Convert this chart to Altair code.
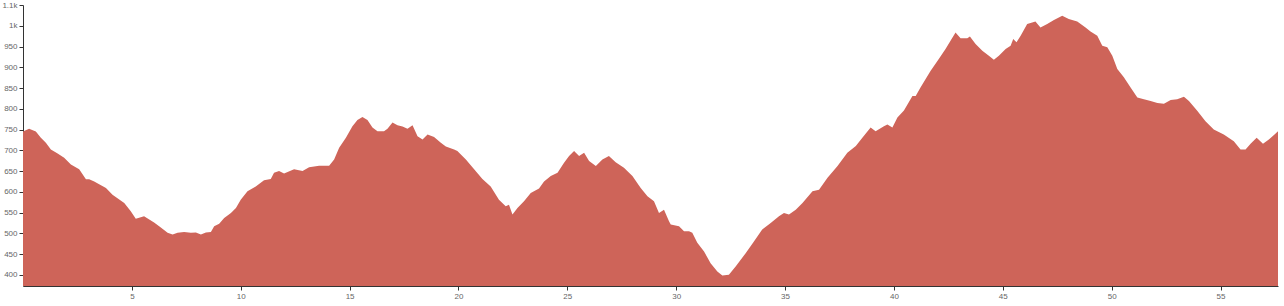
import altair as alt
import pandas as pd

distance_km = [0.0, 0.28, 0.59, 0.82, 1.05, 1.28, 1.59, 1.89, 2.20, 2.58, 2.89, 3.04, 3.27, 3.81, 4.11,
               4.65, 4.95, 5.18, 5.56, 6.02, 6.33, 6.64, 6.87, 7.10, 7.40, 7.71, 7.94, 8.17, 8.40, 8.63,
               8.78, 9.01, 9.24, 9.55, 9.78, 10.00, 10.31, 10.69, 11.07, 11.38, 11.53, 11.76, 11.99,
               12.45, 12.84, 13.14, 13.60, 14.06, 14.29, 14.52, 14.83, 15.13, 15.36, 15.59, 15.82,
               16.05, 16.28, 16.58, 16.74, 16.97, 17.20, 17.43, 17.66, 17.89, 18.12, 18.35, 18.58,
               18.88, 19.19, 19.42, 19.80, 19.95, 20.34, 20.72, 21.10, 21.48, 21.86, 22.17, 22.32,
               22.48, 22.71, 23.01, 23.32, 23.70, 23.93, 24.24, 24.55, 24.85, 25.08, 25.31, 25.54,
               25.77, 26.00, 26.31, 26.61, 26.91, 27.22, 27.60, 27.99, 28.37, 28.68, 28.98, 29.21,
               29.44, 29.67, 29.75, 30.13, 30.36, 30.59, 30.74, 30.97, 31.28, 31.58, 31.89, 32.12,
               32.42, 32.73, 33.19, 33.57, 33.95, 34.34, 34.72, 34.95, 35.18, 35.49, 35.80, 36.26,
               36.56, 36.95, 37.41, 37.86, 38.25, 38.55, 38.93, 39.16, 39.54, 39.70, 39.93, 40.16,
               40.46, 40.85, 41.00, 41.22, 41.68, 42.06, 42.37, 42.60, 42.83, 43.06, 43.37, 43.49,
               43.75, 44.06, 44.36, 44.59, 44.82, 45.13, 45.36, 45.48, 45.63, 45.82, 46.12, 46.35,
               46.50, 46.73, 47.04, 47.35, 47.73, 48.03, 48.42, 48.80, 49.03, 49.34, 49.57, 49.80,
               50.03, 50.26, 50.56, 50.87, 51.18, 51.48, 51.79, 52.10, 52.40, 52.71, 53.01, 53.32,
               53.55, 53.93, 54.31, 54.69, 55.15, 55.61, 55.92, 56.15, 56.38, 56.66, 56.95, 57.22,
               57.48, 57.64]

elevation_m = [745, 752, 745, 730, 718, 702, 692, 682, 666, 654, 630, 630, 625, 609, 593,
               573, 553, 535, 541, 526, 514, 501, 497, 501, 503, 501, 502, 497, 502, 503,
               517, 523, 537, 549, 561, 581, 601, 613, 628, 631, 646, 650, 644,
               654, 650, 659, 663, 663, 678, 706, 730, 758, 773, 780, 773,
               755, 746, 746, 752, 767, 760, 757, 752, 760, 734, 726, 738,
               732, 718, 709, 702, 698, 678, 654, 631, 613, 581, 565, 569,
               545, 561, 577, 597, 608, 625, 638, 646, 670, 686, 698, 686,
               694, 674, 662, 678, 686, 671, 658, 638, 609, 589, 577, 549,
               557, 529, 521, 517, 505, 505, 501, 477, 456, 428, 408, 398,
               400, 420, 452, 480, 509, 525, 541, 549, 545, 557, 573, 601,
               605, 634, 662, 694, 710, 730, 755, 746, 758, 762, 755, 779,
               796, 831, 831, 851, 891, 920, 944, 964, 984, 970, 970, 974,
               956, 940, 928, 918, 928, 944, 952, 968, 960, 976, 1004, 1008,
               1010, 996, 1004, 1014, 1024, 1016, 1010, 996, 986, 976, 952, 948,
               928, 896, 876, 851, 827, 823, 819, 814, 812, 821, 823, 829,
               819, 795, 770, 750, 738, 722, 702, 702, 716, 730, 716, 726,
               738, 746]

x_ticks = [5, 10, 15, 20, 25, 30, 35, 40, 45, 50, 55]
y_ticks = [400, 450, 500, 550, 600, 650, 700, 750, 800, 850, 900, 950, 1000, 1050]

df = pd.DataFrame({"km": distance_km, "elev": elevation_m})

axis_common = dict(
    labelFont="Liberation Sans",
    labelFontSize=8,
    labelColor="#666666",
    tickColor="#333333",
    domainColor="#333333",
    tickSize=4,
    grid=False,
    title=None,
)

chart = alt.Chart(df).mark_area(color="#CE6459", opacity=1, interpolate="linear", clip=True).encode(
    x=alt.X("km:Q",
            scale=alt.Scale(domain=[0, 57.64], nice=False, zero=False),
            axis=alt.Axis(values=x_ticks, labelPadding=2, **axis_common)),
    y=alt.Y("elev:Q",
            scale=alt.Scale(domain=[373, 1050], nice=False, zero=False),
            axis=alt.Axis(values=y_ticks, format=".2~s", labelPadding=2, **axis_common)),
).properties(
    width=1255,
    height=281,
    autosize=alt.AutoSizeParams(type="none"),
    padding={"left": 23, "top": 5, "right": 6, "bottom": 20},
).configure_view(stroke=None)

chart.save("out.html", embed_options={"renderer": "svg", "actions": False})
